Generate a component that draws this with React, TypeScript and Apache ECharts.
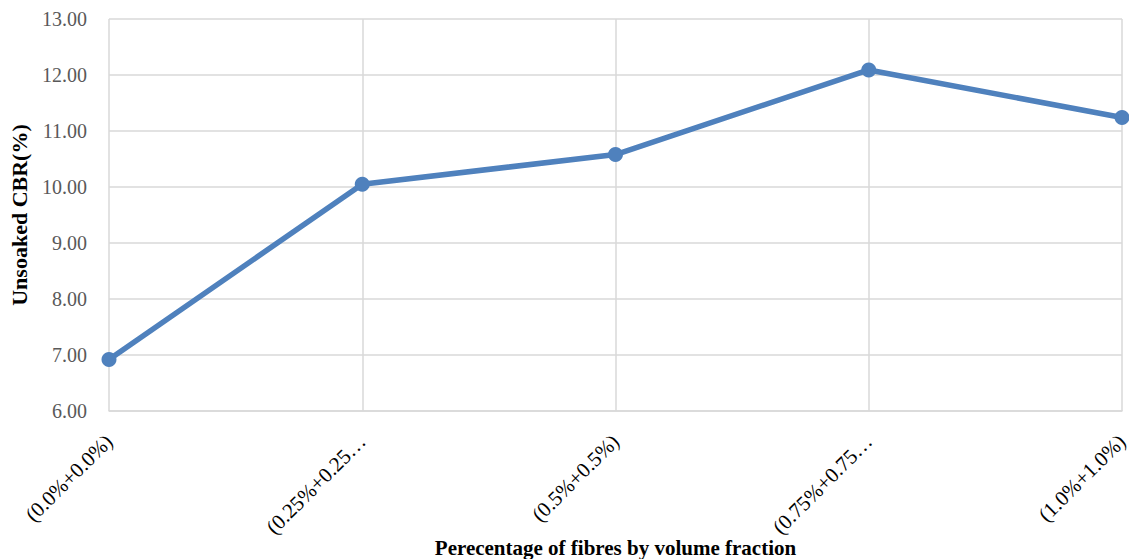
import React, { useEffect, useRef } from "react";
import * as echarts from "echarts";

const categories = ["(0.0%+0.0%)", "(0.25%+0.25…", "(0.5%+0.5%)", "(0.75%+0.75…", "(1.0%+1.0%)"];
const cbrValues = [6.92, 10.05, 10.58, 12.09, 11.24];
const yTicks = { min: 6, max: 13, interval: 1 };

export default function App() {
  const ref = useRef<HTMLDivElement>(null);
  useEffect(() => {
    if (!ref.current) return;
    const chart = echarts.init(ref.current, null, { renderer: "svg" });
    chart.setOption({
      animation: false,
      backgroundColor: "#ffffff",
      grid: { left: 109, right: 7, top: 19, bottom: 148, containLabel: false, outerBoundsMode: "none" },
      xAxis: {
        type: "category",
        data: categories,
        boundaryGap: false,
        name: "Perecentage of fibres by volume fraction",
        nameLocation: "middle",
        nameGap: 126,
        nameMoveOverlap: false,
        nameTextStyle: { fontFamily: "Liberation Serif", fontWeight: "bold", fontSize: 21, color: "#000" },
        axisLine: { show: true, lineStyle: { color: "#d9d9d9", width: 1.5 } },
        axisTick: { show: false },
        splitLine: { show: true, lineStyle: { color: "#d9d9d9", width: 1.5 } },
        axisLabel: {
          rotate: 45,
          interval: 0,
          margin: 27,
          fontFamily: "Liberation Serif",
          fontSize: 21,
          color: "#000",
        },
      },
      yAxis: {
        type: "value",
        min: yTicks.min,
        max: yTicks.max,
        interval: yTicks.interval,
        name: "Unsoaked CBR(%)",
        nameLocation: "middle",
        nameGap: 79,
        nameTextStyle: { fontFamily: "Liberation Serif", fontWeight: "bold", fontSize: 22, color: "#000" },
        axisLine: { show: false },
        axisTick: { show: false },
        splitLine: { show: true, lineStyle: { color: "#d9d9d9", width: 1.5 } },
        axisLabel: {
          formatter: (v: number) => v.toFixed(2),
          margin: 22,
          fontFamily: "Liberation Serif",
          fontSize: 20,
          color: "#595959",
        },
      },
      series: [
        {
          type: "line",
          data: cbrValues,
          symbol: "circle",
          symbolSize: 15,
          lineStyle: { color: "#4f81bd", width: 5.5 },
          itemStyle: { color: "#4f81bd" },
        },
      ],
    });
    return () => chart.dispose();
  }, []);
  return (
    <div
      ref={ref}
      style={{ position: "absolute", left: 0, top: 0, width: 1129, height: 559 }}
    />
  );
}
